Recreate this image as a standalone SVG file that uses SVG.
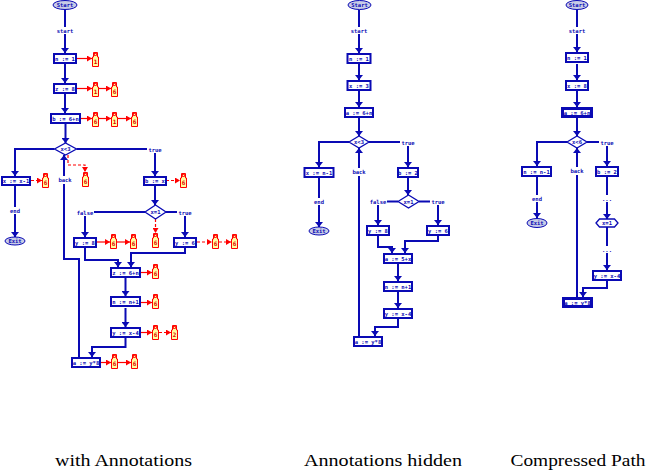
<svg xmlns="http://www.w3.org/2000/svg" xmlns:xlink="http://www.w3.org/1999/xlink" width="648" height="471" viewBox="0 0 648 471">
<style>
.box{fill:#fff;stroke:#0a0ab4;stroke-width:2}
.thick{stroke-width:3}
.dia{fill:#fff;stroke:#0a0ab4;stroke-width:1.3}
.ell{fill:#c8cce6;stroke:#0a0ab4;stroke-width:1}
.t{font-family:"DejaVu Sans Mono",monospace;font-size:5.5px;font-weight:bold;fill:#0a0ab4;text-anchor:middle}
.c{fill:none;stroke:#0a0ab4;stroke-width:2}
.lb{fill:#fff}
.r{fill:none;stroke:#f00;stroke-width:1.2}
.rd{stroke-dasharray:3 2}
.ic{fill:#ffffa0;stroke:#f00;stroke-width:1}
.dg{font-family:"DejaVu Sans Mono",monospace;font-size:6px;font-weight:bold;fill:#e00000;text-anchor:middle}
.cap{font-family:"Liberation Serif",serif;font-size:16px;fill:#000;text-anchor:middle}
</style>
<defs>
<marker id="ba" markerWidth="6" markerHeight="8" refX="5" refY="4" orient="auto" markerUnits="userSpaceOnUse"><path d="M0,0 L5,4 L0,8 Z" fill="#0a0ab4"/></marker>
<marker id="ra" markerWidth="5" markerHeight="6" refX="5" refY="3" orient="auto" markerUnits="userSpaceOnUse"><path d="M0,0 L5,3 L0,6 Z" fill="#f00"/></marker>
<g id="ann"><path class="ic" d="M1.5,0.5 H5.5 V5 H6.5 V14.5 H0.5 V5 H1.5 Z"/><rect x="2.5" y="1.5" width="2" height="2" fill="none" stroke="#f00" stroke-width="0.8"/></g>
</defs>
<rect width="648" height="471" fill="#fff"/>

<!-- ================= connectors ================= -->
<g id="connectors">
<!-- left -->
<path class="c" d="M65,10 V53" marker-end="url(#ba)"/>
<path class="c" d="M65,64 V83" marker-end="url(#ba)"/>
<path class="c" d="M65,94 V113" marker-end="url(#ba)"/>
<path class="c" d="M65.5,124 V143" marker-end="url(#ba)"/>
<path class="c" d="M54.5,149 H15 V176" marker-end="url(#ba)"/>
<path class="c" d="M15,186 V237" marker-end="url(#ba)"/>
<path class="c" d="M76.5,149 H155 V176" marker-end="url(#ba)"/>
<path class="c" d="M155,186 V205" marker-end="url(#ba)"/>
<path class="c" d="M145,212 H85 V237" marker-end="url(#ba)"/>
<path class="c" d="M166,212 H185 V237" marker-end="url(#ba)"/>
<path class="c" d="M85,248 V260 H118 V267" marker-end="url(#ba)"/>
<path class="c" d="M185,248 V253 H131 V267" marker-end="url(#ba)"/>
<path class="c" d="M125.5,278 V296" marker-end="url(#ba)"/>
<path class="c" d="M125.5,308 V327" marker-end="url(#ba)"/>
<path class="c" d="M125.5,338 V347 H92 V357" marker-end="url(#ba)"/>
<path class="c" d="M79,357 V259 H64 V155" marker-end="url(#ba)"/>
<rect class="lb" x="56" y="27" width="18" height="7"/><text class="t" x="65" y="33">start</text>
<rect class="lb" x="8" y="207" width="14" height="7"/><text class="t" x="15" y="213">end</text>
<rect class="lb" x="147" y="146" width="16" height="7"/><text class="t" x="155" y="152">true</text>
<rect class="lb" x="57" y="176" width="16" height="8"/><text class="t" x="65" y="182">back</text>
<rect class="lb" x="76" y="209" width="18" height="7"/><text class="t" x="85" y="215">false</text>
<rect class="lb" x="177" y="209" width="16" height="7"/><text class="t" x="185" y="215">true</text>

<!-- middle -->
<path class="c" d="M359,10 V53" marker-end="url(#ba)"/>
<path class="c" d="M359,64 V80" marker-end="url(#ba)"/>
<path class="c" d="M359,91 V107" marker-end="url(#ba)"/>
<path class="c" d="M359,118 V136" marker-end="url(#ba)"/>
<path class="c" d="M349,142 H319 V167" marker-end="url(#ba)"/>
<path class="c" d="M319,178 V227" marker-end="url(#ba)"/>
<path class="c" d="M369,142 H408 V167" marker-end="url(#ba)"/>
<path class="c" d="M408,178 V195" marker-end="url(#ba)"/>
<path class="c" d="M398,201.5 H378 V225" marker-end="url(#ba)"/>
<path class="c" d="M419,201.5 H438 V225" marker-end="url(#ba)"/>
<path class="c" d="M378,236 V247 H392 V253" marker-end="url(#ba)"/>
<path class="c" d="M438,236 V241 H405 V253" marker-end="url(#ba)"/>
<path class="c" d="M398,264 V281" marker-end="url(#ba)"/>
<path class="c" d="M398,292 V308" marker-end="url(#ba)"/>
<path class="c" d="M398,319 V327 H375 V336" marker-end="url(#ba)"/>
<path class="c" d="M359,336 V148" marker-end="url(#ba)"/>
<rect class="lb" x="350" y="27" width="18" height="7"/><text class="t" x="359" y="33">start</text>
<rect class="lb" x="312" y="198" width="14" height="7"/><text class="t" x="319" y="204">end</text>
<rect class="lb" x="400" y="139" width="16" height="7"/><text class="t" x="408" y="145">true</text>
<rect class="lb" x="351" y="168" width="16" height="8"/><text class="t" x="359" y="174">back</text>
<rect class="lb" x="369" y="198" width="18" height="7"/><text class="t" x="378" y="204">false</text>
<rect class="lb" x="430" y="198" width="16" height="7"/><text class="t" x="438" y="204">true</text>

<!-- right -->
<path class="c" d="M577,10 V52" marker-end="url(#ba)"/>
<path class="c" d="M577,64 V80" marker-end="url(#ba)"/>
<path class="c" d="M577,91 V107" marker-end="url(#ba)"/>
<path class="c" d="M577,118 V136" marker-end="url(#ba)"/>
<path class="c" d="M567,142 H537 V166" marker-end="url(#ba)"/>
<path class="c" d="M537,177 V218" marker-end="url(#ba)"/>
<path class="c" d="M587,142 H607 V166" marker-end="url(#ba)"/>
<path class="c" d="M607,177 V219" marker-end="url(#ba)"/>
<path class="c" d="M607,227 V270" marker-end="url(#ba)"/>
<path class="c" d="M607,281 V288 H583 V297" marker-end="url(#ba)"/>
<path class="c" d="M577,297 V148" marker-end="url(#ba)"/>
<rect class="lb" x="568" y="27" width="18" height="7"/><text class="t" x="577" y="33">start</text>
<rect class="lb" x="530" y="195" width="14" height="7"/><text class="t" x="537" y="201">end</text>
<rect class="lb" x="599" y="139" width="16" height="7"/><text class="t" x="607" y="145">true</text>
<rect class="lb" x="569" y="167" width="16" height="8"/><text class="t" x="577" y="173">back</text>
<rect class="lb" x="600" y="195" width="14" height="7"/><text class="t" x="607" y="201">...</text>
<rect class="lb" x="600" y="246" width="14" height="7"/><text class="t" x="607" y="252">...</text>
</g>

<!-- ================= annotations (left) ================= -->
<g id="annotations">
<path class="r" d="M77,58.5 H92" marker-end="url(#ra)"/>
<path class="r" d="M77,88.5 H92" marker-end="url(#ra)"/>
<path class="r" d="M99,88.5 H111" marker-end="url(#ra)"/>
<path class="r" d="M81,118.5 H92" marker-end="url(#ra)"/>
<path class="r" d="M99,118.5 H111" marker-end="url(#ra)"/>
<path class="r" d="M118,118.5 H131" marker-end="url(#ra)"/>
<path class="r rd" d="M68,155 V165 H85 V172" marker-end="url(#ra)"/>
<path class="r rd" d="M31,180.5 H42" marker-end="url(#ra)"/>
<path class="r rd" d="M166,180.5 H180" marker-end="url(#ra)"/>
<path class="r rd" d="M155.5,219 V233" marker-end="url(#ra)"/>
<path class="r" d="M97,242 H110" marker-end="url(#ra)"/>
<path class="r" d="M117,242 H130" marker-end="url(#ra)"/>
<path class="r rd" d="M197,242 H212" marker-end="url(#ra)"/>
<path class="r rd" d="M219,242 H231" marker-end="url(#ra)"/>
<path class="r" d="M141,272.5 H152" marker-end="url(#ra)"/>
<path class="r" d="M141,302.5 H152" marker-end="url(#ra)"/>
<path class="r" d="M141,332.5 H152" marker-end="url(#ra)"/>
<path class="r rd" d="M159,332.5 H171" marker-end="url(#ra)"/>
<path class="r" d="M101,362.5 H111" marker-end="url(#ra)"/>
<path class="r" d="M118,362.5 H131" marker-end="url(#ra)"/>

<use xlink:href="#ann" x="92" y="52"/><text class="dg" x="95.5" y="64">1</text>
<use xlink:href="#ann" x="92" y="82"/><text class="dg" x="95.5" y="94">1</text>
<use xlink:href="#ann" x="111" y="82"/><text class="dg" x="114.5" y="94">6</text>
<use xlink:href="#ann" x="92" y="112"/><text class="dg" x="95.5" y="124">6</text>
<use xlink:href="#ann" x="111" y="112"/><text class="dg" x="114.5" y="124">1</text>
<use xlink:href="#ann" x="131" y="112"/><text class="dg" x="134.5" y="124">6</text>
<use xlink:href="#ann" x="82" y="172"/><text class="dg" x="85.5" y="184">6</text>
<use xlink:href="#ann" x="42" y="173"/><text class="dg" x="45.5" y="185">6</text>
<use xlink:href="#ann" x="180" y="173"/><text class="dg" x="183.5" y="185">6</text>
<use xlink:href="#ann" x="152" y="233"/><text class="dg" x="155.5" y="245">6</text>
<use xlink:href="#ann" x="110" y="234"/><text class="dg" x="113.5" y="246">6</text>
<use xlink:href="#ann" x="130" y="234"/><text class="dg" x="133.5" y="246">6</text>
<use xlink:href="#ann" x="212" y="234"/><text class="dg" x="215.5" y="246">6</text>
<use xlink:href="#ann" x="231" y="234"/><text class="dg" x="234.5" y="246">6</text>
<use xlink:href="#ann" x="152" y="264"/><text class="dg" x="155.5" y="276">6</text>
<use xlink:href="#ann" x="152" y="294"/><text class="dg" x="155.5" y="306">6</text>
<use xlink:href="#ann" x="152" y="325"/><text class="dg" x="155.5" y="337">6</text>
<use xlink:href="#ann" x="171" y="325"/><text class="dg" x="174.5" y="337">2</text>
<use xlink:href="#ann" x="111" y="354"/><text class="dg" x="114.5" y="366">6</text>
<use xlink:href="#ann" x="131" y="354"/><text class="dg" x="134.5" y="366">6</text>
</g>

<!-- ================= nodes: left ================= -->
<g id="L-start"><ellipse class="ell" cx="65" cy="5" rx="12" ry="4.5"/><text class="t" x="65" y="7">Start</text></g>
<g id="L-n1"><rect class="box" x="54" y="54" width="22" height="9"/><text class="t" x="65" y="60.5">n := 1</text></g>
<g id="L-z8"><rect class="box" x="54" y="84" width="22" height="9"/><text class="t" x="65" y="90.5">z := 8</text></g>
<g id="L-b6n"><rect class="box" x="51" y="114" width="29" height="9"/><text class="t" x="65.5" y="120.5">b := 6+n</text></g>
<g id="L-cond1"><polygon class="dia" points="54.5,149 65.5,143 76.5,149 65.5,155"/><text class="t" x="65.5" y="151">x&lt;3</text></g>
<g id="L-xx1"><rect class="box" x="2" y="177" width="28" height="8"/><text class="t" x="16" y="183">x := x-1</text></g>
<g id="L-exit"><ellipse class="ell" cx="15" cy="241" rx="10" ry="4"/><text class="t" x="15" y="243">Exit</text></g>
<g id="L-bx"><rect class="box" x="144" y="177" width="22" height="8"/><text class="t" x="155" y="183">b := x</text></g>
<g id="L-cond2"><polygon class="dia" points="145,212 155.5,205 166,212 155.5,219"/><text class="t" x="155.5" y="214">x=1</text></g>
<g id="L-y8"><rect class="box" x="74" y="238" width="22" height="9"/><text class="t" x="85" y="244.5">y := 8</text></g>
<g id="L-y6"><rect class="box" x="174" y="238" width="22" height="9"/><text class="t" x="185" y="244.5">y := 6</text></g>
<g id="L-z6n"><rect class="box" x="111" y="268" width="29" height="9"/><text class="t" x="125.5" y="274.5">z := 6+n</text></g>
<g id="L-nn1"><rect class="box" x="111" y="297" width="29" height="9"/><text class="t" x="125.5" y="303.5">n := n+1</text></g>
<g id="L-yx4"><rect class="box" x="111" y="328" width="29" height="9"/><text class="t" x="125.5" y="334.5">y := x-4</text></g>
<g id="L-ay8"><rect class="box" x="72" y="358" width="28" height="9"/><text class="t" x="86" y="364.5">a := y*8</text></g>

<!-- ================= nodes: middle ================= -->
<g id="M-start"><ellipse class="ell" cx="359.5" cy="5" rx="11.5" ry="4.5"/><text class="t" x="359.5" y="7">Start</text></g>
<g id="M-n1"><rect class="box" x="347.5" y="54" width="23" height="9"/><text class="t" x="359" y="60.5">n := 1</text></g>
<g id="M-x3"><rect class="box" x="347.5" y="81" width="23" height="9"/><text class="t" x="359" y="87.5">x := 3</text></g>
<g id="M-a6n"><rect class="box" x="345" y="108" width="28" height="9"/><text class="t" x="359" y="114.5">a := 6+n</text></g>
<g id="M-cond1"><polygon class="dia" points="349,142 359,136 369,142 359,148"/><text class="t" x="359" y="144">x&lt;3</text></g>
<g id="M-xn1"><rect class="box" x="304.5" y="168" width="29" height="9"/><text class="t" x="319" y="174.5">x := n-1</text></g>
<g id="M-exit"><ellipse class="ell" cx="319" cy="231" rx="10" ry="4"/><text class="t" x="319" y="233">Exit</text></g>
<g id="M-b2"><rect class="box" x="398" y="168" width="20" height="9"/><text class="t" x="408" y="174.5">b := 2</text></g>
<g id="M-cond2"><polygon class="dia" points="398,201.5 408.5,195 419,201.5 408.5,208"/><text class="t" x="408.5" y="203.5">x=1</text></g>
<g id="M-y8"><rect class="box" x="367" y="226" width="22" height="9"/><text class="t" x="378" y="232.5">y := 8</text></g>
<g id="M-y6"><rect class="box" x="427" y="226" width="22" height="9"/><text class="t" x="438" y="232.5">y := 6</text></g>
<g id="M-a5x"><rect class="box" x="384" y="254" width="28" height="9"/><text class="t" x="398" y="260.5">a := 5+x</text></g>
<g id="M-nn1"><rect class="box" x="384" y="282" width="28" height="9"/><text class="t" x="398" y="288.5">n := n+1</text></g>
<g id="M-yx4"><rect class="box" x="384" y="309" width="28" height="9"/><text class="t" x="398" y="315.5">y := x-4</text></g>
<g id="M-ay8"><rect class="box" x="354" y="337" width="28" height="9"/><text class="t" x="368" y="343.5">a := y*8</text></g>

<!-- ================= nodes: right ================= -->
<g id="R-start"><ellipse class="ell" cx="577" cy="5" rx="11" ry="4.5"/><text class="t" x="577" y="7">Start</text></g>
<g id="R-n1"><rect class="box" x="566" y="53" width="22" height="9"/><text class="t" x="577" y="59.5">n := 1</text></g>
<g id="R-x8"><rect class="box" x="566" y="81" width="22" height="9"/><text class="t" x="577" y="87.5">x := 8</text></g>
<g id="R-a6n"><rect class="box thick" x="562.5" y="108.5" width="29" height="8"/><text class="t" x="577" y="114.5">a := 6+n</text></g>
<g id="R-cond1"><polygon class="dia" points="567,142 577,136 587,142 577,148"/><text class="t" x="577" y="144">x&lt;6</text></g>
<g id="R-nn1"><rect class="box" x="522" y="167" width="29" height="9"/><text class="t" x="536.5" y="173.5">n := n-1</text></g>
<g id="R-exit"><ellipse class="ell" cx="537" cy="223" rx="10" ry="4.5"/><text class="t" x="537" y="225">Exit</text></g>
<g id="R-b2"><rect class="box" x="596" y="167" width="22" height="9"/><text class="t" x="607" y="173.5">b := 2</text></g>
<g id="R-cond2"><polygon class="dia" points="596,223 599.5,219 614.5,219 618,223 614.5,227 599.5,227"/><text class="t" x="607" y="225">x=1</text></g>
<g id="R-yx4"><rect class="box" x="593" y="271" width="28" height="9"/><text class="t" x="607" y="277.5">y := x-4</text></g>
<g id="R-ay8"><rect class="box thick" x="563.5" y="298.5" width="28" height="8"/><text class="t" x="577.5" y="304.5">a := y*8</text></g>

<!-- captions -->
<g id="captions">
<text class="cap" x="123.5" y="466" textLength="137" lengthAdjust="spacingAndGlyphs">with Annotations</text>
<text class="cap" x="383" y="466" textLength="158" lengthAdjust="spacingAndGlyphs">Annotations hidden</text>
<text class="cap" x="578" y="466" textLength="135" lengthAdjust="spacingAndGlyphs">Compressed Path</text>
</g>
</svg>
